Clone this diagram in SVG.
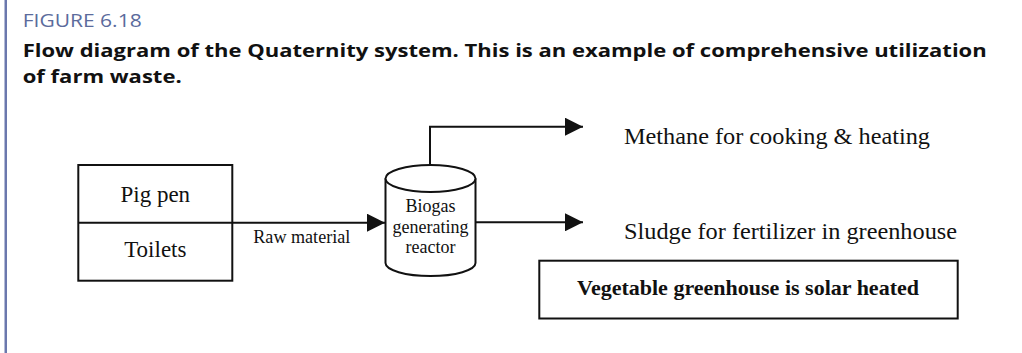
<svg xmlns="http://www.w3.org/2000/svg" width="1022" height="353" viewBox="0 0 1022 353">
  <style>
    .cap { font-family: "Open Sans", "Noto Sans", sans-serif; }
    .lbl { font-family: "Liberation Serif", "Times New Roman", serif; fill: #111; }
    .shape { fill: #fff; stroke: #111; stroke-width: 2; }
    .conn { fill: none; stroke: #111; stroke-width: 2; }
  </style>
  <defs>
    <marker id="arrow" viewBox="0 0 18 18" refX="18" refY="9" markerWidth="18" markerHeight="18" markerUnits="userSpaceOnUse" orient="auto">
      <path d="M0,0 L18,9 L0,18 z" fill="#111"/>
    </marker>
  </defs>
  <rect width="1022" height="353" fill="#fff"/>
  <rect x="4.5" y="0" width="2.5" height="353" fill="#6b78ad"/>

  <g id="caption">
    <text class="cap" x="22.7" y="26.7" font-size="19" fill="#5b6b9c" textLength="119" lengthAdjust="spacingAndGlyphs">FIGURE 6.18</text>
    <text class="cap" x="22.7" y="56.7" font-size="18.5" font-weight="bold" fill="#111" textLength="964" lengthAdjust="spacingAndGlyphs">Flow diagram of the Quaternity system. This is an example of comprehensive utilization</text>
    <text class="cap" x="22.7" y="83.3" font-size="18.5" font-weight="bold" fill="#111" textLength="159" lengthAdjust="spacingAndGlyphs">of farm waste.</text>
  </g>

  <g id="connectors">
    <line class="conn" x1="233" y1="222.7" x2="385" y2="222.7" marker-end="url(#arrow)"/>
    <path class="conn" d="M430,165 V126.7 H583" marker-end="url(#arrow)"/>
    <line class="conn" x1="476" y1="222.3" x2="583" y2="222.3" marker-end="url(#arrow)"/>
    <text class="lbl" x="253.3" y="242.7" font-size="18" textLength="97" lengthAdjust="spacingAndGlyphs">Raw material</text>
  </g>

  <g id="sources">
    <rect class="shape" x="78.3" y="165" width="154" height="115.7"/>
    <line class="conn" x1="78.3" y1="222.7" x2="232.3" y2="222.7"/>
    <text class="lbl" x="155.3" y="201.7" font-size="23" text-anchor="middle">Pig pen</text>
    <text class="lbl" x="155.3" y="256.7" font-size="23" text-anchor="middle">Toilets</text>
  </g>

  <g id="reactor">
    <path class="shape" d="M385.5,178.5 V263 A45,13 0 0 0 475.5,263 V178.5"/>
    <ellipse class="shape" cx="430.5" cy="178.5" rx="45" ry="13.5"/>
    <text class="lbl" x="430.5" y="212" font-size="18" text-anchor="middle">Biogas</text>
    <text class="lbl" x="430.5" y="232.5" font-size="18" text-anchor="middle">generating</text>
    <text class="lbl" x="430.5" y="253" font-size="18" text-anchor="middle">reactor</text>
  </g>

  <g id="methane">
    <text class="lbl" x="624" y="144.3" font-size="24" textLength="306" lengthAdjust="spacingAndGlyphs">Methane for cooking &amp; heating</text>
  </g>

  <g id="sludge">
    <text class="lbl" x="624" y="239.3" font-size="24" textLength="333" lengthAdjust="spacingAndGlyphs">Sludge for fertilizer in greenhouse</text>
  </g>

  <g id="greenhouse">
    <rect class="shape" x="539.3" y="260.7" width="418.4" height="57.8"/>
    <text class="lbl" x="577" y="295" font-size="22" font-weight="bold" textLength="342" lengthAdjust="spacingAndGlyphs">Vegetable greenhouse is solar heated</text>
  </g>
</svg>
